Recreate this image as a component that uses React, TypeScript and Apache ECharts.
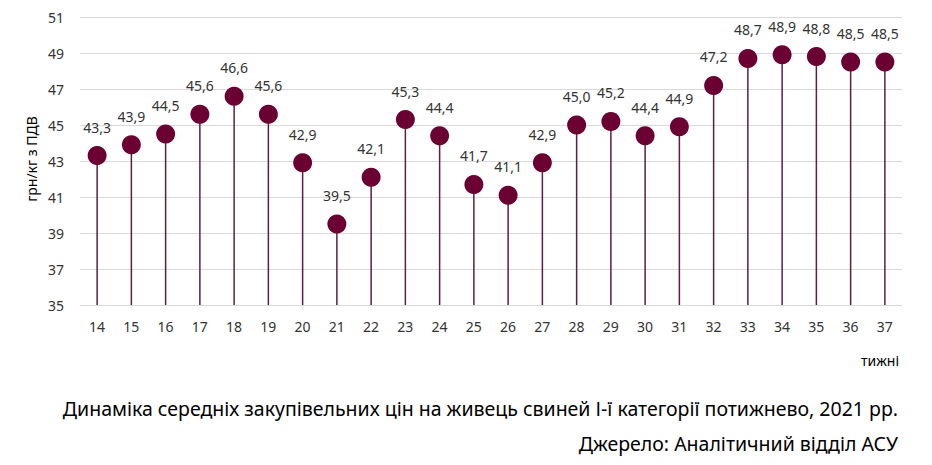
import React, { useEffect, useRef } from "react";
import * as echarts from "echarts";

const weeks = ["14","15","16","17","18","19","20","21","22","23","24","25","26","27","28","29","30","31","32","33","34","35","36","37"];
const prices = [43.3,43.9,44.5,45.6,46.6,45.6,42.9,39.5,42.1,45.3,44.4,41.7,41.1,42.9,45.0,45.2,44.4,44.9,47.2,48.7,48.9,48.8,48.5,48.5];
const yMin = 35;
const yMax = 51;
const yStep = 2;
const yAxisTitle = "грн/кг з ПДВ";
const xAxisTitle = "тижні";
const chartTitle = "Динаміка середніх закупівельних цін на живець свиней І-ї категорії потижнево, 2021 рр.";
const sourceText = "Джерело: Аналітичний відділ АСУ";

const FONT = "'Noto Sans', 'Open Sans', sans-serif";

export default function App() {
  const ref = useRef<HTMLDivElement>(null);
  useEffect(() => {
    document.body.style.margin = "0";
    const chart = echarts.init(ref.current!, null, { renderer: "svg" });
    chart.setOption({
      animation: false,
      backgroundColor: "#ffffff",
      textStyle: { fontFamily: FONT },
      grid: { left: 80, right: 30, top: 17, bottom: 160 },
      xAxis: {
        type: "category",
        data: weeks,
        axisLine: { show: false },
        axisTick: { show: false },
        axisLabel: { color: "#333333", fontSize: 14, margin: 14, fontFamily: FONT },
      },
      yAxis: {
        type: "value",
        min: yMin,
        max: yMax,
        interval: yStep,
        axisLine: { show: false },
        axisTick: { show: false },
        axisLabel: { color: "#333333", fontSize: 14, margin: 16, fontFamily: FONT },
        splitLine: { lineStyle: { color: "#d9d9d9", width: 1 } },
      },
      graphic: [
        {
          type: "text",
          x: 31,
          y: 159,
          rotation: Math.PI / 2,
          style: {
            text: yAxisTitle,
            fill: "#000000",
            font: `14px ${FONT}`,
            align: "center",
            verticalAlign: "middle",
          },
        },
        {
          type: "text",
          x: 880,
          y: 360,
          style: { text: xAxisTitle, fill: "#000000", font: `14px ${FONT}`, align: "center", verticalAlign: "middle" },
        },
        {
          type: "text",
          x: 898,
          y: 408,
          style: { text: chartTitle, fill: "#000000", font: `19.5px ${FONT}`, align: "right", verticalAlign: "middle" },
        },
        {
          type: "text",
          x: 898,
          y: 443,
          style: { text: sourceText, fill: "#000000", font: `19.5px ${FONT}`, align: "right", verticalAlign: "middle" },
        },
      ],
      series: [
        {
          type: "custom",
          data: prices.map((v, i) => [i, v]),
          renderItem: (params: any, api: any) => {
            const top = api.coord([api.value(0), api.value(1)]);
            const base = api.coord([api.value(0), yMin]);
            return {
              type: "line",
              shape: { x1: top[0], y1: top[1], x2: base[0], y2: base[1] },
              style: { stroke: "#5c1f3f", lineWidth: 1.5 },
            };
          },
          z: 1,
        },
        {
          type: "scatter",
          data: prices,
          symbol: "circle",
          symbolSize: 19,
          itemStyle: { color: "#6b0033", opacity: 1 },
          label: {
            show: true,
            position: "top",
            distance: 12,
            color: "#333333",
            fontSize: 14,
            fontFamily: FONT,
            formatter: (p: any) => p.value.toFixed(1).replace(".", ","),
          },
          z: 2,
        },
      ],
    });
    return () => chart.dispose();
  }, []);
  return <div ref={ref} style={{ width: 932, height: 465 }} />;
}
